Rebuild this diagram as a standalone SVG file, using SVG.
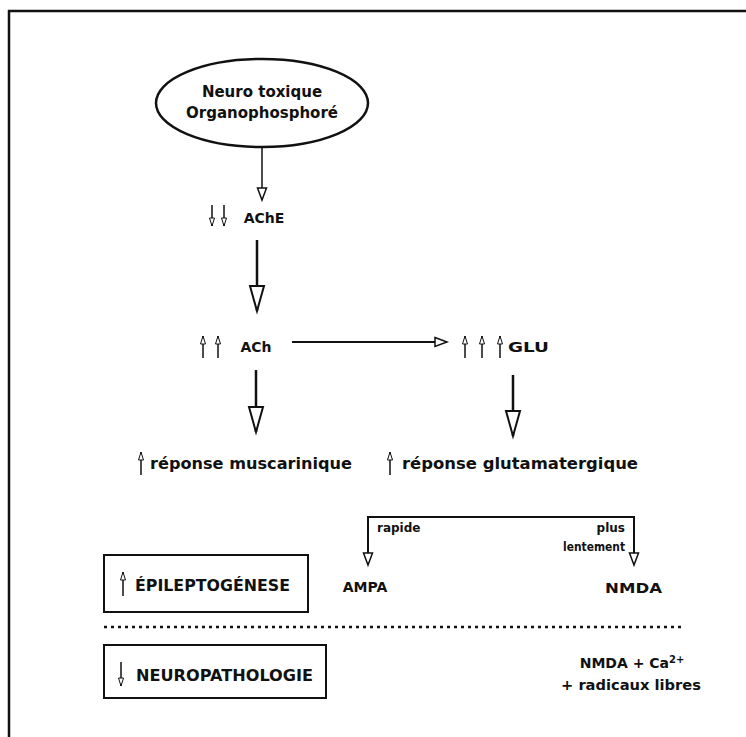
<svg xmlns="http://www.w3.org/2000/svg" width="746" height="737" viewBox="0 0 746 737">
<defs>
<style>
text{font-family:"DejaVu Sans","Liberation Sans",Arial,sans-serif;font-weight:bold;fill:#111}
.t15{font-size:15px}
.t14{font-size:14px}
.t12{font-size:12px}
.ln{stroke:#111;fill:none}
</style>
<marker id="aBig" markerUnits="userSpaceOnUse" markerWidth="27" markerHeight="16" refX="25" refY="7" orient="auto" overflow="visible"><path d="M0,0 L25,7 L0,14 z" fill="#fff" stroke="#111" stroke-width="2"/></marker>
<marker id="aMed" markerUnits="userSpaceOnUse" markerWidth="14" markerHeight="10" refX="12" refY="4.5" orient="auto" overflow="visible"><path d="M0,0 L12,4.5 L0,9 z" fill="#fff" stroke="#111" stroke-width="1.5"/></marker>
<marker id="aSm" markerUnits="userSpaceOnUse" markerWidth="9" markerHeight="6" refX="8" refY="2.5" orient="auto" overflow="visible"><path d="M0,0 L8,2.5 L0,5 z" fill="#fff" stroke="#111" stroke-width="1"/></marker>
</defs>
<rect width="746" height="737" fill="#fff"/>
<path class="ln" d="M9,737 V11 H746" stroke-width="2.5"/>

<g id="n-neuro">
<ellipse cx="262" cy="103" rx="106" ry="44" class="ln" stroke-width="2.5"/>
<text class="t15" x="262" y="97" text-anchor="middle">Neuro toxique</text>
<text class="t15" x="262" y="118" text-anchor="middle">Organophosphoré</text>
</g>
<g id="n-ache">
<line class="ln" x1="212" y1="205" x2="212" y2="226" stroke-width="1.5" marker-end="url(#aSm)"/>
<line class="ln" x1="224" y1="205" x2="224" y2="226" stroke-width="1.5" marker-end="url(#aSm)"/>
<text class="t14" x="264" y="223" text-anchor="middle">AChE</text>
</g>
<g id="n-ach">
<line class="ln" x1="203" y1="358" x2="203" y2="336" stroke-width="1.5" marker-end="url(#aSm)"/>
<line class="ln" x1="218" y1="358" x2="218" y2="336" stroke-width="1.5" marker-end="url(#aSm)"/>
<text class="t14" x="256" y="352" text-anchor="middle">ACh</text>
</g>
<g id="n-glu">
<line class="ln" x1="465" y1="358" x2="465" y2="336" stroke-width="1.5" marker-end="url(#aSm)"/>
<line class="ln" x1="482" y1="358" x2="482" y2="336" stroke-width="1.5" marker-end="url(#aSm)"/>
<line class="ln" x1="500" y1="358" x2="500" y2="336" stroke-width="1.5" marker-end="url(#aSm)"/>
<text class="t14" x="508" y="352" textLength="41" lengthAdjust="spacingAndGlyphs">GLU</text>
</g>
<g id="n-musc">
<line class="ln" x1="141" y1="475" x2="141" y2="452" stroke-width="1.5" marker-end="url(#aSm)"/>
<text class="t15" x="150" y="469" textLength="202" lengthAdjust="spacingAndGlyphs">réponse muscarinique</text>
</g>
<g id="n-glut">
<line class="ln" x1="390" y1="475" x2="390" y2="452" stroke-width="1.5" marker-end="url(#aSm)"/>
<text class="t15" x="402" y="469" textLength="236" lengthAdjust="spacingAndGlyphs">réponse glutamatergique</text>
</g>
<g id="n-ampa">
<text class="t14" x="365" y="592" text-anchor="middle">AMPA</text>
</g>
<g id="n-nmda">
<text class="t14" x="605" y="593" textLength="57" lengthAdjust="spacingAndGlyphs">NMDA</text>
</g>
<g id="n-epi">
<rect x="104" y="555" width="204" height="57" class="ln" stroke-width="2"/>
<line class="ln" x1="123" y1="596" x2="123" y2="572" stroke-width="1.5" marker-end="url(#aSm)"/>
<text class="t15" x="135" y="591" textLength="155" lengthAdjust="spacingAndGlyphs">ÉPILEPTOGÉNESE</text>
</g>
<g id="n-neuropath">
<rect x="104" y="645" width="222" height="53" class="ln" stroke-width="2"/>
<line class="ln" x1="121" y1="662" x2="121" y2="686" stroke-width="1.5" marker-end="url(#aSm)"/>
<text class="t15" x="136" y="681" textLength="177" lengthAdjust="spacingAndGlyphs">NEUROPATHOLOGIE</text>
</g>
<g id="n-ca">
<text class="t14" x="632" y="668" text-anchor="middle">NMDA + Ca<tspan font-size="10" dy="-5">2+</tspan></text>
<text class="t14" x="631" y="690" text-anchor="middle" textLength="140" lengthAdjust="spacingAndGlyphs">+ radicaux libres</text>
</g>
<line class="ln" x1="104" y1="627" x2="684" y2="627" stroke-width="2.5" stroke-dasharray="3,4"/>

<g id="connectors">
<line class="ln" x1="262" y1="148" x2="262" y2="200" stroke-width="1.5" marker-end="url(#aMed)"/>
<line class="ln" x1="257" y1="240" x2="257" y2="311" stroke-width="2.5" marker-end="url(#aBig)"/>
<line class="ln" x1="292" y1="342" x2="447" y2="342" stroke-width="2" marker-end="url(#aMed)"/>
<line class="ln" x1="256" y1="370" x2="256" y2="432" stroke-width="2.5" marker-end="url(#aBig)"/>
<line class="ln" x1="513" y1="375" x2="513" y2="436" stroke-width="2.5" marker-end="url(#aBig)"/>
<path class="ln" d="M368,564 V517 H634 V564" stroke-width="2"/>
<line class="ln" x1="368" y1="540" x2="368" y2="565" stroke-width="0" marker-end="url(#aMed)"/>
<line class="ln" x1="634" y1="540" x2="634" y2="565" stroke-width="0" marker-end="url(#aMed)"/>
<text class="t12" x="377" y="532">rapide</text>
<text class="t12" x="625" y="532" text-anchor="end">plus</text>
<text class="t12" x="625" y="551" text-anchor="end" textLength="62" lengthAdjust="spacingAndGlyphs">lentement</text>
</g>
</svg>
